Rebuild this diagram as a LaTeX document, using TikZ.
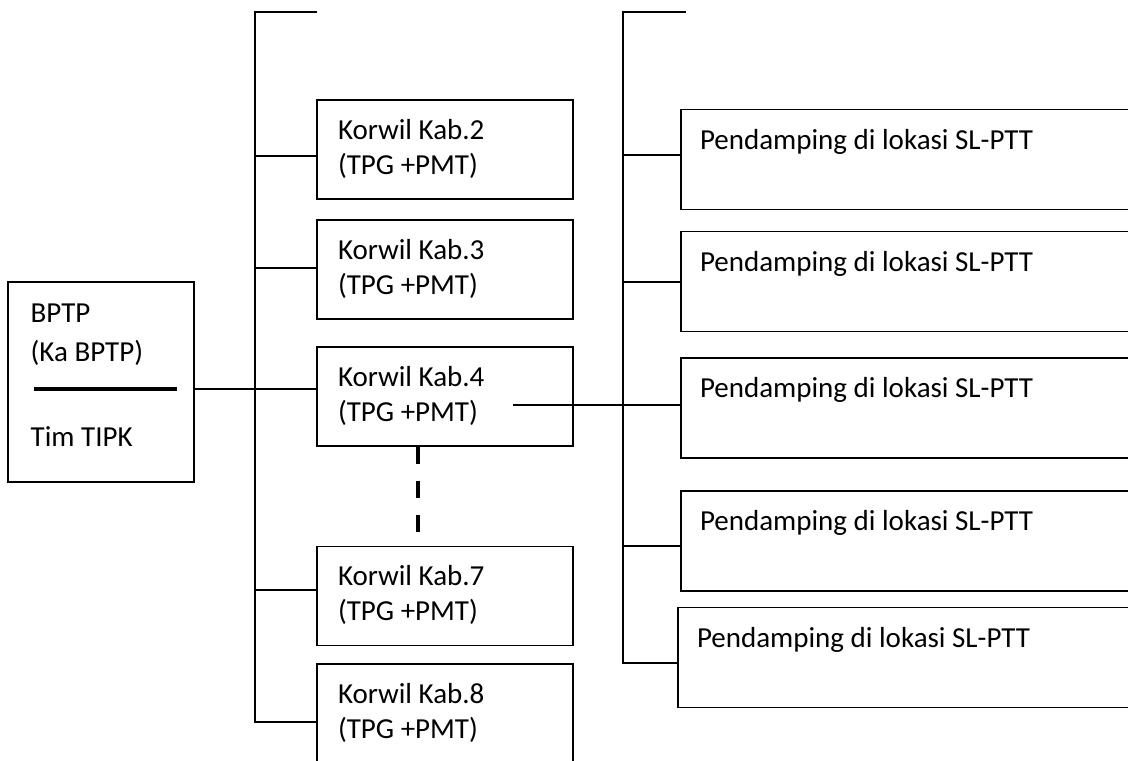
\documentclass[tikz,border=0pt]{standalone}
\usepackage{fontspec}
\setmainfont{Carlito}
\usetikzlibrary{positioning}

\tikzset{
    box/.style={draw, rectangle, inner xsep=10.5pt, inner ysep=0pt, align=flush left},
    korwil/.style={box, minimum width=128pt, minimum height=49.5pt, text width=107pt},
    pendamping/.style={box, minimum width=230pt, minimum height=50pt, inner xsep=9.5pt, text width=211pt},
    txt/.style={inner sep=0pt, anchor=base west},
}

\begin{document}
\begin{tikzpicture}[x=0.5pt, y=-0.5pt, font=\fontsize{14.5}{17.5}\selectfont, line width=0.7pt]
    \useasboundingbox (0,0) rectangle (1128,760);
    \clip (0,0) rectangle (1128,760);

    \node[draw, minimum width=93pt, minimum height=100pt] (bptp) at (101,382){};
    \node[txt] (bptpname) at (30,322) {BPTP};
    \node[txt] (kabptp) at (30,361) {(Ka BPTP)};
    \node[txt] (tipk) at (30,446) {Tim TIPK};
    \draw[line width=2pt] (34,389) -- (177,389);

    \node[korwil] (k2) at (445,149.5) {\strut Korwil Kab.2\\\strut(TPG +PMT)};
    \node[korwil] (k3) at (445,269.5) {\strut Korwil Kab.3\\\strut(TPG +PMT)};
    \node[korwil] (k4) at (445,396.5) {\strut Korwil Kab.4\\\strut(TPG +PMT)};
    \node[korwil] (k7) at (445,596) {\strut Korwil Kab.7\\\strut(TPG +PMT)};
    \node[korwil] (k8) at (445,713.5) {\strut Korwil Kab.8\\\strut(TPG +PMT)};

    \node[pendamping] (p1) at (911,159.5) {\strut Pendamping di lokasi SL-PTT\\\strut};
    \node[pendamping] (p2) at (911,281.5) {\strut Pendamping di lokasi SL-PTT\\\strut};
    \node[pendamping] (p3) at (911,408) {\strut Pendamping di lokasi SL-PTT\\\strut};
    \node[pendamping] (p4) at (911,541) {\strut Pendamping di lokasi SL-PTT\\\strut};
    \node[pendamping] (p5) at (908,657.5) {\strut Pendamping di lokasi SL-PTT\\\strut};

    % kolom korwil
    \coordinate (lt) at (255,12);
    \coordinate (lb) at (255,722);
    \coordinate (j2) at (255,156);
    \coordinate (j3) at (255,268);
    \coordinate (j4) at (255,389);
    \coordinate (j7) at (255,590);
    \draw (317,12) -- (lt) -- (lb) -- (k8.west |- lb);
    \draw (j2) -- (k2.west |- j2);
    \draw (j3) -- (k3.west |- j3);
    \draw (bptp.east |- j4) -- (j4) -- (k4.west |- j4);
    \draw (j7) -- (k7.west |- j7);
    \draw[line width=2pt, dash pattern=on 8.5pt off 8.5pt] ([xshift=-13.5pt]k4.south) -- ([xshift=-13.5pt]k7.north);

    % kolom pendamping
    \coordinate (rt) at (623,12);
    \coordinate (rb) at (623,663);
    \coordinate (r1) at (623,155);
    \coordinate (r2) at (623,282);
    \coordinate (r4) at (623,546);
    \coordinate (k4out) at (513,405);
    \draw (686,12) -- (rt) -- (rb) -- (p5.west |- rb);
    \draw (r1) -- (p1.west |- r1);
    \draw (r2) -- (p2.west |- r2);
    \draw (k4out) -- (p3.west |- k4out);
    \draw (r4) -- (p4.west |- r4);
\end{tikzpicture}
\end{document}
